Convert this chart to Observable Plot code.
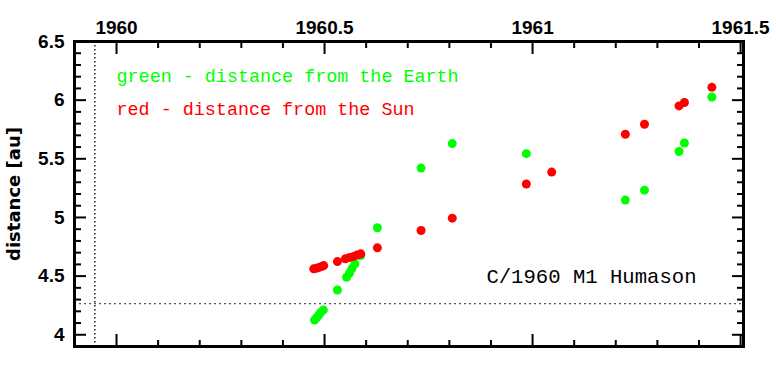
<!DOCTYPE html>
<html>
<head>
<meta charset="utf-8">
<script src="https://cdn.jsdelivr.net/npm/d3@7"></script>
<script src="https://cdn.jsdelivr.net/npm/@observablehq/plot@0.6"></script>
<style>
  html, body { margin: 0; padding: 0; background: #fff; }
  #chart svg { display: block; }
</style>
</head>
<body>
<div id="chart"></div>
<script>
// Distance from the Earth (green)
const earthYear = [1960.476, 1960.481, 1960.486, 1960.490, 1960.497, 1960.531, 1960.553, 1960.560, 1960.566, 1960.573, 1960.587, 1960.627, 1960.732, 1960.807, 1960.985, 1961.223, 1961.269, 1961.352, 1961.365, 1961.431];
const earthDist = [4.126, 4.145, 4.167, 4.188, 4.211, 4.382, 4.490, 4.526, 4.564, 4.604, 4.675, 4.912, 5.421, 5.630, 5.544, 5.148, 5.233, 5.562, 5.635, 6.026];
// Distance from the Sun (red)
const sunYear = [1960.474, 1960.481, 1960.487, 1960.493, 1960.498, 1960.531, 1960.550, 1960.560, 1960.570, 1960.578, 1960.587, 1960.627, 1960.732, 1960.807, 1960.985, 1961.046, 1961.223, 1961.269, 1961.352, 1961.365, 1961.431];
const sunDist = [4.562, 4.568, 4.574, 4.581, 4.590, 4.624, 4.647, 4.658, 4.668, 4.679, 4.690, 4.741, 4.889, 4.994, 5.285, 5.387, 5.709, 5.795, 5.951, 5.980, 6.109];
// Perihelion reference lines
const perihelionYear = [1959.948];
const perihelionDist = [4.266];
// Ticks
const xMajor = [1960, 1960.5, 1961, 1961.5];
const xMinor = [1959.9, 1960.1, 1960.2, 1960.3, 1960.4, 1960.6, 1960.7, 1960.8, 1960.9, 1961.1, 1961.2, 1961.3, 1961.4];
const yMajor = [4, 4.5, 5, 5.5, 6, 6.5];
const yMinor = [4.1, 4.2, 4.3, 4.4, 4.6, 4.7, 4.8, 4.9, 5.1, 5.2, 5.3, 5.4, 5.6, 5.7, 5.8, 5.9, 6.1, 6.2, 6.3, 6.4];
const legendLines = ["green - distance from the Earth", "red - distance from the Sun"];
const legendYears = [1960, 1960];
const legendDists = [6.203, 5.921];
const legendColors = ["#00ff00", "#ff0000"];
const titleText = ["C/1960 M1 Humason"];

const earth = earthYear.map((t, i) => ({t, d: earthDist[i]}));
const sun = sunYear.map((t, i) => ({t, d: sunDist[i]}));
const legend = legendLines.map((s, i) => ({s, t: legendYears[i], d: legendDists[i], c: legendColors[i]}));

const mono = "'Liberation Mono', 'DejaVu Sans Mono', monospace";
const sans = "'Liberation Sans', Arial, sans-serif";

const tickAxes = [];
for (const anchor of ["top", "bottom"]) {
  tickAxes.push(Plot.axisX(xMajor, {anchor, tickSize: -12, fill: "none", strokeWidth: 2, label: null}));
  tickAxes.push(Plot.axisX(xMinor, {anchor, tickSize: -6, fill: "none", strokeWidth: 2, label: null}));
}
for (const anchor of ["left", "right"]) {
  tickAxes.push(Plot.axisY(yMajor, {anchor, tickSize: -12, fill: "none", strokeWidth: 2, label: null}));
  tickAxes.push(Plot.axisY(yMinor, {anchor, tickSize: -7, fill: "none", strokeWidth: 2, label: null}));
}

const chart = Plot.plot({
  width: 776,
  height: 369,
  marginLeft: 74,
  marginRight: 33,
  marginTop: 41,
  marginBottom: 23,
  x: {domain: [1959.899, 1961.507]},
  y: {domain: [3.9, 6.5]},
  style: {background: "#fff", color: "#000"},
  marks: [
    Plot.ruleX(perihelionYear, {stroke: "#000", strokeDasharray: "1.5,2.5", strokeWidth: 1.3}),
    Plot.ruleY(perihelionDist, {stroke: "#555", strokeDasharray: "2,3", strokeWidth: 1.3}),
    ...tickAxes,
    Plot.axisX(xMajor, {anchor: "top", tickSize: 0, tickPadding: 8, stroke: "none", tickFormat: d => String(d), fontSize: 19, fontWeight: "bold", fontFamily: sans, label: null}),
    Plot.axisY(yMajor, {anchor: "left", tickSize: 0, tickPadding: 10, stroke: "none", tickFormat: d => String(d), fontSize: 19, fontWeight: "bold", fontFamily: sans, label: null}),
    Plot.text(["distance [au]"], {frameAnchor: "left", textAnchor: "middle", rotate: -90, dx: -60, fontSize: 18, fontWeight: "bold", fontFamily: "'DejaVu Sans', sans-serif"}),
    Plot.dot(earth, {x: "t", y: "d", r: 4.5, fill: "#00ff00", stroke: "none"}),
    Plot.dot(sun, {x: "t", y: "d", r: 4.5, fill: "#ff0000", stroke: "none"}),
    Plot.text(legend, {x: "t", y: "d", text: "s", fill: "c", textAnchor: "start", fontSize: 18.4, fontFamily: mono}),
    Plot.text(titleText, {x: [1961.394], y: [4.494], textAnchor: "end", fontSize: 20.6, fontFamily: mono, fill: "#000"}),
    Plot.frame({stroke: "#000", strokeWidth: 3})
  ]
});
document.getElementById("chart").appendChild(chart);
</script>
</body>
</html>
